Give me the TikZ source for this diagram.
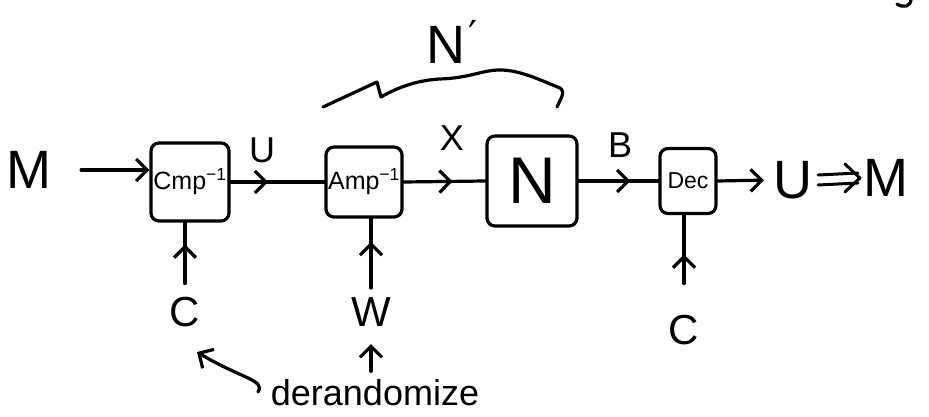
\documentclass[tikz,border=0pt]{standalone}
\usepackage{fontspec}
\setmainfont{Liberation Sans}
\newfontfamily\primefont{DejaVu Sans}
\usetikzlibrary{arrows.meta,decorations.markings}
\begin{document}
\begin{tikzpicture}[x=1pt,y=-1pt, line width=3.2pt, line cap=round, line join=round,
  box/.style={draw, rounded corners=8pt, inner sep=0pt, anchor=center},
  lbl/.style={inner sep=0pt, anchor=center},
  arr/.style={-{Straight Barb[length=11pt,width=22pt]}},
  midarr/.style={postaction={decorate}, decoration={markings, mark=at position #1 with {\arrow{Straight Barb[length=11pt,width=22pt]}}}},
  big/.style={font=\fontsize{54}{58}\selectfont},
  med/.style={font=\fontsize{36}{40}\selectfont},
  sml/.style={font=\fontsize{25}{28}\selectfont}
]
\useasboundingbox (0,0) rectangle (929,417);

% main chain
\node[lbl, big] (Min) at (29,170) {M};
\node[box, sml, minimum width=78pt, minimum height=78pt] (cmp) at (190,182) {Cmp\textsuperscript{−1}};
\node[box, sml, minimum width=76pt, minimum height=70pt] (amp) at (364,182) {Amp\textsuperscript{−1}};
\node[box, font=\fontsize{66}{70}\selectfont, minimum width=90pt, minimum height=90pt] (chan) at (532,181) {N};
\node[box, font=\fontsize{23}{26}\selectfont, minimum width=56pt, minimum height=65pt] (dec) at (688,181) {Dec};
\node[lbl, big] (Uout) at (793,180) {U};
\node[lbl, big] (Mout) at (886,178) {M};

% edge labels
\node[lbl, med] (ulab) at (262,150) {U};
\node[lbl, med] (xlab) at (452,138) {X};
\node[lbl, med] (blab) at (620,145) {B};

% side inputs
\node[lbl, font=\fontsize{42}{46}\selectfont] (C1) at (185,312) {C};
\node[lbl, font=\fontsize{42}{46}\selectfont] (W) at (371,312) {W};
\node[lbl, font=\fontsize{42}{46}\selectfont] (C2) at (684,330) {C};
\node[inner sep=0pt, anchor=base, font=\fontsize{36}{40}\selectfont] (derand) at (375,405) {derandomize};

% brace label
\node[lbl, big] (Nprime) at (452,42) {N\kern3pt\raisebox{0.25em}{\primefont\fontsize{40}{44}\selectfont ′}};

% connectors
\draw[arr, shorten <=28pt] (Min.east) -- (cmp.west |- Min.east);
\draw[midarr=0.4] (cmp.east) -- (amp.west);
\draw[midarr=0.6] (amp.east) -- (chan.west);
\draw[midarr=0.65] (chan.east) -- (dec.west);
\draw[arr, shorten >=8pt] (dec.east) -- (Uout.west);

% implies arrow U => M
\path (Uout.east) ++(4,0) coordinate (ia);
\path (Mout.west) ++(-4,0) coordinate (ib);
\draw[line width=3pt] ([yshift=-5pt]ia) -- ([yshift=-5pt]ib);
\draw[line width=3pt] ([yshift=5pt]ia) -- ([yshift=5pt]ib);
\draw[line width=3pt] ([shift={(-13pt,-14pt)}]ib) -- ([xshift=2pt]ib) -- ([shift={(-13pt,14pt)}]ib);

\draw[midarr=0.7, shorten <=12pt] (C1.north) -- (C1.north |- cmp.south);
\draw[midarr=0.7, shorten <=8pt] (W.north) -- (W.north |- amp.south);
\draw[midarr=0.6, shorten <=30pt] (C2.north) -- (C2.north |- dec.south);

% derandomize arrows
\coordinate (dtail) at (258,392);
\coordinate (dhead) at (197,352);
\draw[arr] (dtail) .. controls (266,380) and (240,378) .. (dhead);
\draw[arr, shorten <=6pt, shorten >=16pt] (derand.north -| W) -- (W.south);

% brace over Amp and N
\draw (323,107) -- (377,82) -- (381,97) .. controls (400,86) and (420,80) .. (440,79)
  .. controls (470,78) and (482,70) .. (500,70) .. controls (520,70) and (540,80) .. (560,88)
  .. controls (566,92) and (560,100) .. (557,107);

% stray stroke top right
\draw (911,0) .. controls (910,7) and (903,8) .. (897,4);
\end{tikzpicture}
\end{document}
